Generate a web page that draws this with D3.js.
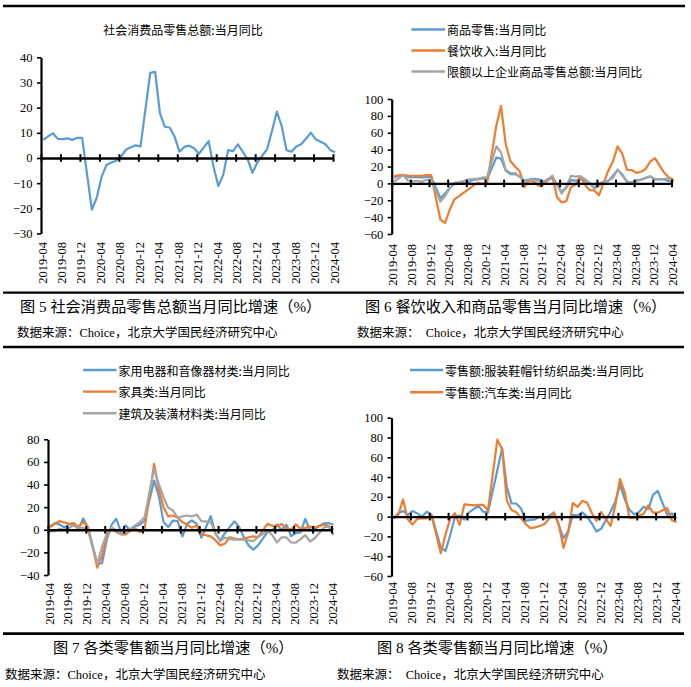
<!DOCTYPE html>
<html><head><meta charset="utf-8">
<script src="https://cdn.jsdelivr.net/npm/d3@7"></script>
<style>body{margin:0;background:#fff}svg{display:block}</style>
</head><body>
<svg id="c" width="691" height="687"></svg>
<script>
// ---------- DATA ----------
const months = [
 "2019-04","2019-05","2019-06","2019-07","2019-08","2019-09","2019-10","2019-11","2019-12",
 "2020-02","2020-03","2020-04","2020-05","2020-06","2020-07","2020-08","2020-09","2020-10","2020-11","2020-12",
 "2021-02","2021-03","2021-04","2021-05","2021-06","2021-07","2021-08","2021-09","2021-10","2021-11","2021-12",
 "2022-02","2022-03","2022-04","2022-05","2022-06","2022-07","2022-08","2022-09","2022-10","2022-11","2022-12",
 "2023-02","2023-03","2023-04","2023-05","2023-06","2023-07","2023-08","2023-09","2023-10","2023-11","2023-12",
 "2024-02","2024-03","2024-04"];
const tickLabels = ["2019-04","2019-08","2019-12","2020-04","2020-08","2020-12","2021-04","2021-08",
 "2021-12","2022-04","2022-08","2022-12","2023-04","2023-08","2023-12","2024-04"];

// Fig 5
const retailTotal = [7.2,8.6,9.8,7.6,7.5,7.8,7.2,8.0,8.0,
 -20.5,-15.8,-7.5,-2.8,-1.8,-1.1,0.5,3.3,4.3,5.0,4.6,
 33.8,34.2,17.7,12.4,12.1,8.5,2.5,4.4,4.9,3.9,1.7,
 6.7,-3.5,-11.1,-6.7,3.1,2.7,5.4,2.5,-0.5,-5.9,-1.8,
 3.5,10.6,18.4,12.7,3.1,2.5,4.6,5.5,7.6,10.1,7.4,
 5.5,3.1,2.3];
// Fig 6
const goodsRetail = [7.0,8.7,9.8,7.5,7.4,7.7,7.0,7.8,7.9,
 -17.6,-12.0,-5.1,-0.8,-0.2,0.2,1.6,4.0,4.7,5.8,5.2,
 30.7,29.4,15.1,10.9,11.0,7.9,3.3,4.5,5.3,4.8,2.1,
 6.5,-1.9,-9.7,-5.0,3.9,3.2,5.1,3.0,0.5,-5.6,0.1,
 2.9,9.1,15.9,10.5,1.7,1.0,3.7,4.6,6.5,8.0,4.8,
 4.6,2.7,2.0];
const catering = [8.5,9.4,10.0,9.1,9.0,8.8,9.0,9.7,9.9,
 -43.1,-46.8,-31.1,-18.9,-15.2,-11.0,-7.0,-2.9,0.8,-0.6,0.4,
 68.9,91.6,46.4,26.6,20.0,14.3,-4.5,3.1,2.0,-2.7,-2.0,
 8.9,-16.4,-22.7,-21.1,-4.0,-1.5,8.4,-1.7,-8.1,-8.4,-14.1,
 15.0,26.3,43.8,35.1,16.1,15.8,12.4,13.8,17.1,25.8,30.0,
 12.5,6.9,4.4];
const aboveSize = [2.3,5.5,10.0,3.4,2.4,3.1,1.8,4.3,4.4,
 -21.5,-15.0,-6.0,1.0,1.5,2.8,4.6,5.3,5.3,6.8,7.5,
 44.0,36.5,16.0,12.5,12.0,8.0,1.5,3.7,4.5,3.0,0.9,
 8.8,-1.5,-12.0,-4.0,9.0,8.0,8.5,5.0,0.0,-6.5,-3.0,
 3.5,6.5,16.5,9.0,2.5,0.5,2.5,4.0,6.5,8.5,5.0,
 5.5,6.0,2.0];
// Fig 7
const appliances = [3.2,5.9,4.7,2.0,5.0,4.5,0.5,10.0,2.0,
 -30.0,-29.7,-8.5,4.3,9.7,-2.0,3.8,-0.8,3.0,4.5,8.0,
 43.5,30.0,6.8,2.4,8.2,7.6,-5.9,5.3,8.2,5.3,-7.0,
 12.0,-3.5,-9.4,-3.0,2.4,7.4,2.4,-6.5,-13.8,-17.6,-13.8,
 -2.0,-0.6,4.7,0.1,4.5,-5.5,-2.9,-2.3,9.6,-0.4,0.9,
 5.7,5.8,4.5];
const furniture = [2.4,5.3,7.6,6.5,5.3,5.9,2.4,6.8,2.4,
 -33.5,-22.7,-5.4,1.5,-2.0,-4.0,-4.0,-0.6,0.9,-2.0,1.0,
 58.2,36.0,20.0,11.8,12.6,10.6,6.8,4.4,1.8,3.8,-4.0,
 -5.9,-9.4,-13.8,-12.2,-6.6,-7.8,-8.2,-8.1,-6.6,-5.8,-6.5,
 5.2,3.5,3.4,5.0,1.2,0.1,4.8,0.8,1.7,2.8,2.1,
 4.6,3.0,-0.1];
const buildingMat = [-1.2,-1.2,0.9,0.0,1.8,3.8,1.8,1.8,-0.6,
 -30.0,-15.0,-3.5,2.4,-0.6,-4.0,-2.0,0.9,3.8,6.8,11.2,
 53.8,40.6,28.8,19.4,17.0,10.6,11.8,12.6,11.8,13.5,7.6,
 7.0,-3.5,-10.0,-7.0,-8.0,-8.8,-8.8,-8.8,-9.4,-10.0,-6.5,
 -0.9,-4.7,-11.2,-6.6,-6.8,-11.2,-11.4,-8.2,-4.8,-10.4,-7.5,
 2.2,2.8,-4.5];
// Fig 8
const apparel = [-1.7,3.3,5.7,1.7,5.7,3.3,0.0,5.0,2.3,
 -30.9,-34.8,-18.5,-0.6,1.1,-3.0,4.2,7.7,10.7,5.0,4.3,
 47.1,69.2,30.0,13.3,13.3,8.3,-4.3,-3.3,-2.7,0.0,-2.3,
 4.3,-8.3,-21.7,-15.0,1.7,1.0,4.3,0.0,-6.7,-15.0,-12.3,
 5.0,15.0,32.4,17.6,6.9,2.3,4.5,9.9,7.5,22.0,26.0,
 1.9,3.1,-2.0];
const autos = [-2.0,2.1,17.2,-2.6,-8.1,-2.3,-1.9,-1.8,1.8,
 -37.0,-18.1,-2.2,3.5,-8.2,12.3,11.8,11.3,12.0,11.8,6.4,
 77.8,68.2,16.5,6.6,4.5,-1.3,-7.4,-11.6,-10.9,-9.4,-7.4,
 3.6,-7.5,-31.6,-16.0,13.9,9.7,15.9,14.2,3.9,-4.2,4.6,
 -9.4,11.5,38.0,24.2,-1.1,-1.5,1.1,2.8,11.4,4.0,4.0,
 8.7,-3.7,-5.6];

const seriesNames5 = ["社会消费品零售总额:当月同比"];
const seriesNames6 = ["商品零售:当月同比","餐饮收入:当月同比","限额以上企业商品零售总额:当月同比"];
const seriesNames7 = ["家用电器和音像器材类:当月同比","家具类:当月同比","建筑及装潢材料类:当月同比"];
const seriesNames8 = ["零售额:服装鞋帽针纺织品类:当月同比","零售额:汽车类:当月同比"];
const captions = ["图 5 社会消费品零售总额当月同比增速（%）","图 6 餐饮收入和商品零售当月同比增速（%）",
 "图 7 各类零售额当月同比增速（%）","图 8 各类零售额当月同比增速（%）"];
const sources = ["数据来源：Choice，北京大学国民经济研究中心","数据来源：  Choice，北京大学国民经济研究中心"];

// ---------- DRAW ----------
const BLUE="#5B9BD5", ORANGE="#ED7D31", GRAY="#A5A5A5";
const SANS="'Noto Sans CJK SC', sans-serif";
const SERIF="'Liberation Serif','Noto Sans CJK SC', serif";
const svg = d3.select("#c");
const mIdx = s => { const [yy,mm] = s.split("-").map(Number); return (yy-2019)*12 + (mm-4); };
const tickIdx = tickLabels.map(mIdx);

function drawPanel(p){
  const g = svg.append("g");
  const x = d3.scaleLinear().domain([0,60]).range([p.x0,p.x1]);
  const y = d3.scaleLinear().domain(p.yDomain).range([p.yBot,p.yTop]);
  const yg = g.append("g").attr("transform",`translate(${p.x0},0)`)
    .call(d3.axisLeft(y).tickValues(p.yTicks).tickSize(4).tickSizeOuter(0).tickFormat(d3.format("d")));
  yg.select(".domain").attr("stroke","#000").attr("stroke-width",2.2);
  yg.selectAll(".tick line").attr("stroke","#000").attr("stroke-width",1.6);
  yg.selectAll(".tick text").attr("font-family",SERIF).attr("font-size",12.5).attr("fill","#000").attr("x",-8.5);
  const line = d3.line().x(d=>x(d.i+0.45)).y(d=>y(d.v));
  p.series.forEach(s=>{
    const data = months.map((m,k)=>({i:mIdx(m), v:s.values[k]}));
    g.append("path").datum(data).attr("d",line).attr("fill","none")
      .attr("stroke",s.color).attr("stroke-width",2.2).attr("stroke-linejoin","round");
  });
  const xg = g.append("g").attr("transform",`translate(0,${y(0)})`)
    .call(d3.axisBottom(x).tickValues(tickIdx).tickSize(0).tickSizeOuter(0).tickFormat(""));
  xg.select(".domain").attr("stroke","#000").attr("stroke-width",2.4);
  xg.selectAll(".tick line").attr("y1",-3.8).attr("y2",3.8).attr("stroke","#000").attr("stroke-width",2);
  const lg = g.append("g").attr("transform",`translate(0,${p.labelTop})`)
    .call(d3.axisBottom(x).tickValues(tickIdx).tickSize(0).tickFormat((d,i)=>tickLabels[i]));
  lg.select(".domain").remove();
  lg.selectAll(".tick text").attr("transform","rotate(-90)").attr("text-anchor","end")
    .attr("x",0).attr("y",0).attr("dy","0.4em").attr("dx",0)
    .attr("font-family",SERIF).attr("font-size",12.5).attr("fill","#000");
  p.series.forEach((s,k)=>{
    if(!p.legend) return;
    const ly = p.legend.y0 + k*p.legend.dy;
    g.append("line").attr("x1",p.legend.x0).attr("x2",p.legend.x1).attr("y1",ly).attr("y2",ly)
      .attr("stroke",s.color).attr("stroke-width",2.4);
    g.append("text").attr("x",p.legend.x1+2).attr("y",ly).attr("dominant-baseline","central")
      .attr("font-family",SANS).attr("font-size",12).attr("fill","#000").text(s.name);
  });
}

drawPanel({x0:41,x1:333,yTop:57.3,yBot:233.5,yDomain:[-30,40],yTicks:d3.range(-30,41,10),labelTop:242,
  series:[{values:retailTotal,color:BLUE,name:seriesNames5[0]}]});
svg.append("text").attr("x",183).attr("y",29.5).attr("text-anchor","middle").attr("dominant-baseline","central")
  .attr("font-family",SANS).attr("font-size",12).text(seriesNames5[0]);

drawPanel({x0:391.7,x1:671.5,yTop:99,yBot:234,yDomain:[-60,100],yTicks:d3.range(-60,101,20),labelTop:244,
  legend:{x0:411.5,x1:445,y0:29.5,dy:21},
  series:[{values:goodsRetail,color:BLUE,name:seriesNames6[0]},
          {values:catering,color:ORANGE,name:seriesNames6[1]},
          {values:aboveSize,color:GRAY,name:seriesNames6[2]}]});

drawPanel({x0:48,x1:331.5,yTop:439.3,yBot:575,yDomain:[-40,80],yTicks:d3.range(-40,81,20),labelTop:583,
  legend:{x0:83,x1:116.5,y0:370,dy:21.6},
  series:[{values:appliances,color:BLUE,name:seriesNames7[0]},
          {values:furniture,color:ORANGE,name:seriesNames7[1]},
          {values:buildingMat,color:GRAY,name:seriesNames7[2]}]});

drawPanel({x0:391.5,x1:674.5,yTop:417.7,yBot:576,yDomain:[-60,100],yTicks:d3.range(-60,101,20),labelTop:582,
  legend:{x0:410,x1:443,y0:370,dy:22.3},
  series:[{values:apparel,color:BLUE,name:seriesNames8[0]},
          {values:autos,color:ORANGE,name:seriesNames8[1]}]});

[[6,3,685,2.6],[292.7,3,684,2.3],[347,3,684,2.6],[633.6,3,684,2.6]].forEach(([yy,a,b,w])=>{
  svg.append("line").attr("x1",a).attr("x2",b).attr("y1",yy).attr("y2",yy).attr("stroke","#000").attr("stroke-width",w);
});
[[20,306.7,0],[365,306.7,1],[53,647.7,2],[377,647.5,3]].forEach(([xx,yy,k])=>{
  svg.append("text").attr("x",xx).attr("y",yy).attr("dominant-baseline","central")
    .attr("font-family",SERIF).attr("font-size",15.2).attr("fill","#000").text(captions[k]);
});
[[17,333,0],[357,333,1],[5,675,0],[337,675,1]].forEach(([xx,yy,k])=>{
  svg.append("text").attr("x",xx).attr("y",yy).attr("dominant-baseline","central")
    .attr("font-family",SERIF).attr("font-size",12.5).attr("fill","#000")
    .attr("xml:space","preserve").style("white-space","pre").text(sources[k]);
});
</script>
</body></html>
